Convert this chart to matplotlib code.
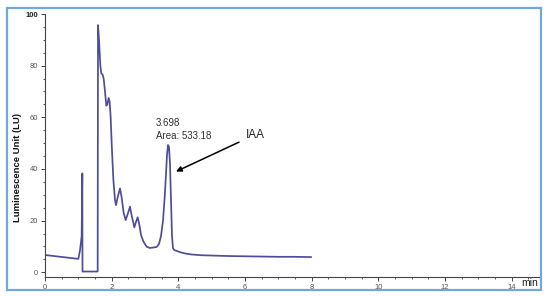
import matplotlib
matplotlib.use("Agg")
import matplotlib.pyplot as plt
from matplotlib.patches import Rectangle
from matplotlib.ticker import MultipleLocator

# Chromatogram trace (retention time in min, luminescence units)
time_min = [0.0, 1.0, 1.05, 1.1, 1.12, 1.125, 1.58, 1.59,
            1.62, 1.66, 1.69, 1.73, 1.76, 1.80, 1.84, 1.87, 1.91, 1.94,
            1.97, 2.0, 2.05, 2.1, 2.13, 2.18, 2.25, 2.30, 2.36, 2.42,
            2.48, 2.55, 2.60, 2.68, 2.73, 2.78, 2.83, 2.88, 2.95, 3.05,
            3.15, 3.25, 3.35, 3.42, 3.48, 3.54, 3.59, 3.63, 3.66, 3.69,
            3.72, 3.75, 3.78, 3.81, 3.84, 3.88, 3.95, 4.05, 4.2, 4.4, 4.7,
            5.0, 5.5, 6.0, 6.5, 7.0, 7.5, 7.98]
signal_lu = [6.7, 5.2, 8.5, 14.0, 38.3, 0.3, 0.3, 95.7,
             90.0, 80.0, 77.0, 76.5, 75.0, 70.0, 64.5, 65.0, 67.5, 66.0,
             60.0, 50.0, 36.0, 28.0, 26.0, 29.0, 32.5, 29.0, 23.0, 20.2,
             22.5, 25.4, 22.0, 17.4, 19.5, 21.3, 18.5, 14.5, 12.0, 9.9,
             9.4, 9.6, 9.8, 11.0, 14.0, 20.0, 29.0, 38.0, 45.5, 49.3,
             48.5, 42.0, 28.0, 14.0, 9.3, 8.6, 8.3, 7.8, 7.3, 6.9, 6.6,
             6.5, 6.3, 6.2, 6.1, 6.0, 6.0, 5.9]

x_ticks = [0, 2, 4, 6, 8, 10, 12, 14]
y_ticks = [0, 20, 40, 60, 80, 100]
peak_rt = "3.698"
peak_area = "Area: 533.18"
peak_name = "IAA"
peak_point = (3.93, 39.0)
label_point = (5.82, 50.4)

W, H = 550, 296
fig = plt.figure(figsize=(W / 100, H / 100), dpi=100)
fig.patch.set_facecolor("white")

# outer blue frame
fig.patches.append(Rectangle((7 / W, 1 - 290 / H), (541 - 7) / W, (290 - 8) / H,
                             transform=fig.transFigure, fill=False,
                             edgecolor="#6fa8dc", linewidth=1.6))

ax = fig.add_axes([45 / W, 1 - 276.7 / H, (540 - 45) / W, (276.7 - 14) / H])
ax.plot(time_min, signal_lu, color="#4d4d99", linewidth=1.25,
        solid_joinstyle="round")

ax.set_xlim(0, 14.85)
ax.set_ylim(-1.7, 100)
ax.set_xticks(x_ticks)
ax.set_yticks(y_ticks)
ax.xaxis.set_minor_locator(MultipleLocator(0.5))
ax.yaxis.set_minor_locator(MultipleLocator(5))

for s in ["top", "right"]:
    ax.spines[s].set_visible(False)
for s in ["left", "bottom"]:
    ax.spines[s].set_color("#444444")
    ax.spines[s].set_linewidth(0.8)

ax.tick_params(axis="both", which="major", direction="out", length=3,
               width=0.7, color="#444444", labelsize=5.5,
               labelcolor="#555555", pad=2)
ax.tick_params(axis="both", which="minor", direction="out", length=1.6,
               width=0.6, color="#444444")
for lbl in ax.get_yticklabels() + ax.get_xticklabels():
    lbl.set_family("Liberation Sans")
ax.get_yticklabels()[-1].set_fontweight("bold")
ax.get_yticklabels()[-1].set_color("#222222")

fig.text(18 / W, 1 - 168 / H, "Luminescence Unit (LU)", rotation=90,
         ha="center", va="center", fontsize=6.8, fontweight="bold",
         family="Liberation Sans", color="#111111")
fig.text(521 / W, 1 - 283 / H, "min", ha="left", va="center",
         fontsize=7.5, family="Liberation Sans", color="#222222")

ax.text(3.32, 57.8, peak_rt, fontsize=7, family="Liberation Sans",
        color="#333333", ha="left", va="center")
ax.text(3.32, 52.8, peak_area, fontsize=7, family="Liberation Sans",
        color="#333333", ha="left", va="center")
ax.text(6.03, 53.2, peak_name, fontsize=8.5, family="Liberation Sans",
        color="#222222", ha="left", va="center")
ax.annotate("", xy=peak_point, xytext=label_point,
            arrowprops=dict(arrowstyle="-|>", color="black", lw=1.1,
                            mutation_scale=8, shrinkA=0, shrinkB=0))

fig.savefig("out.png", dpi=100)
